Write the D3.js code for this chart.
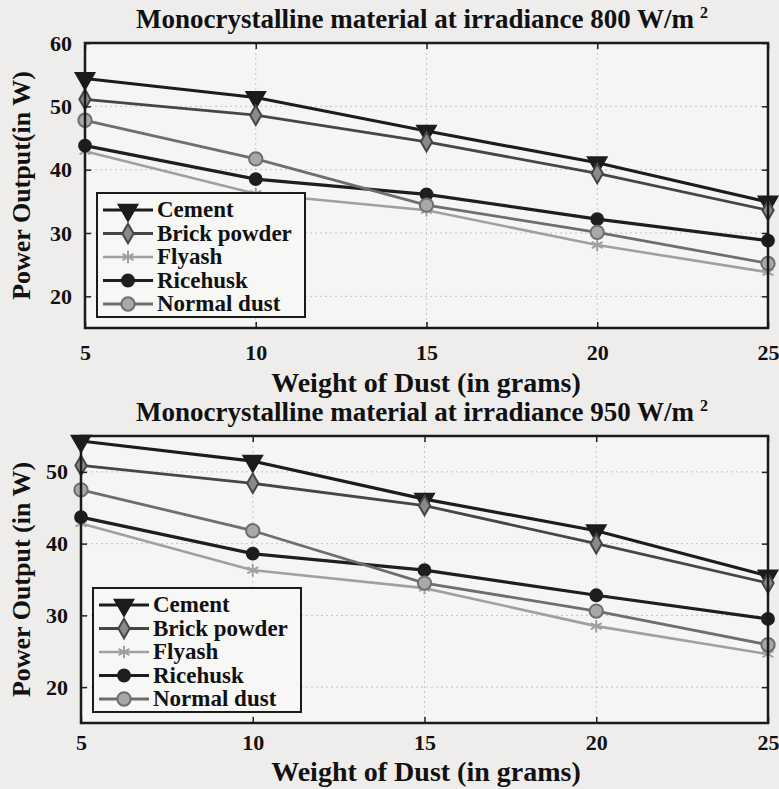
<!DOCTYPE html>
<html>
<head>
<meta charset="utf-8">
<script src="https://cdn.jsdelivr.net/npm/d3@7"></script>
<style>
  body { margin: 0; background: #eeedeb; }
  svg { display: block; }
  text { font-family: "Liberation Serif", "DejaVu Serif", serif; font-weight: bold; fill: #111; }
</style>
</head>
<body>
<div id="chart"></div>
<script>
var weights = [5, 10, 15, 20, 25]
var seriesNames = ["Cement", "Brick powder", "Flyash", "Ricehusk", "Normal dust"]

// irradiance 800 W/m2
var cement800 = [54.4, 51.4, 46.1, 41.1, 34.9]
var brick800 = [51.1, 48.6, 44.4, 39.4, 33.6]
var flyash800 = [42.9, 36.2, 33.6, 28.1, 23.8]
var rice800 = [43.8, 38.5, 36.1, 32.2, 28.8]
var normal800 = [47.8, 41.7, 34.4, 30.1, 25.2]

// irradiance 950 W/m2
var cement950 = [54.3, 51.5, 46.2, 41.8, 35.5]
var brick950 = [50.9, 48.4, 45.3, 40.0, 34.5]
var flyash950 = [42.8, 36.3, 33.8, 28.5, 24.6]
var rice950 = [43.7, 38.6, 36.3, 32.8, 29.5]
var normal950 = [47.5, 41.8, 34.5, 30.6, 25.9]

var yTicksTop = [20, 30, 40, 50, 60]
var yTicksBot = [20, 30, 40, 50]

var styles = {
    "Cement":       {stroke: "#1c1c1c", sym: "tri",  fill: "#1c1c1c", w: 3.2},
    "Brick powder": {stroke: "#464646", sym: "dia",  fill: "#8a8a8a", w: 2.8},
    "Flyash":       {stroke: "#a0a0a0", sym: "star", fill: "none",    w: 2.6},
    "Ricehusk":     {stroke: "#1e1e1e", sym: "sq",   fill: "#1e1e1e", w: 3.2},
    "Normal dust":  {stroke: "#6e6e6e", sym: "circ", fill: "#a8a8a8", w: 2.8}
}

var svg = d3.select("#chart").append("svg")
    .attr("width", 779)
    .attr("height", 789)

function markerPath(sym) {
    if (sym == "tri") return d3.symbol(d3.symbolTriangle, 150)()
    if (sym == "dia") return d3.symbol(d3.symbolDiamond, 110)()
    if (sym == "star") return d3.symbol(d3.symbolAsterisk, 110)()
    if (sym == "sq") return d3.symbol(d3.symbolCircle, 110)()
    return d3.symbol(d3.symbolCircle, 140)()
}

function drawMarker(g, name, cx, cy) {
    var s = styles[name]
    var p = g.append("path")
        .attr("d", markerPath(s.sym))
        .attr("stroke", s.stroke)
        .attr("stroke-width", 2)
        .attr("fill", s.fill)
    if (s.sym == "tri") p.attr("transform", "translate(" + cx + "," + cy + ") rotate(180)")
    else p.attr("transform", "translate(" + cx + "," + cy + ")")
}

function drawPanel(opt) {
    var x = d3.scaleLinear().domain([5, 25]).range([opt.left, opt.right])
    var y = d3.scaleLinear().domain(opt.yDomain).range([opt.bottom, opt.top])
    var g = svg.append("g")

    g.append("rect")
        .attr("x", opt.left).attr("y", opt.top)
        .attr("width", opt.right - opt.left).attr("height", opt.bottom - opt.top)
        .attr("fill", "#f5f5f3")

    // grid
    g.selectAll(".gx").data(weights).enter().append("line")
        .attr("x1", function (d) { return x(d) }).attr("x2", function (d) { return x(d) })
        .attr("y1", opt.top).attr("y2", opt.bottom)
        .attr("stroke", "#c4c4c4").attr("stroke-dasharray", "2,3")
    g.selectAll(".gy").data(opt.yTicks).enter().append("line")
        .attr("x1", opt.left).attr("x2", opt.right)
        .attr("y1", function (d) { return y(d) }).attr("y2", function (d) { return y(d) })
        .attr("stroke", "#c4c4c4").attr("stroke-dasharray", "2,3")

    var line = d3.line()
        .x(function (d) { return x(d.x) })
        .y(function (d) { return y(d.y) })

    opt.series.forEach(function (vals, i) {
        var name = seriesNames[i]
        var pts = weights.map(function (w, j) { return {x: w, y: vals[j]} })
        g.append("path")
            .attr("d", line(pts))
            .attr("fill", "none")
            .attr("stroke", styles[name].stroke)
            .attr("stroke-width", styles[name].w)
        pts.forEach(function (p) { drawMarker(g, name, x(p.x), y(p.y)) })
    })

    // axes (inward ticks, matlab style)
    g.append("g").attr("transform", "translate(0," + opt.bottom + ")")
        .call(d3.axisBottom(x).tickValues(weights).tickSizeInner(-6).tickSizeOuter(0).tickPadding(opt.xPad))
    g.append("g").attr("transform", "translate(0," + opt.top + ")")
        .call(d3.axisTop(x).tickValues(weights).tickSizeInner(-6).tickSizeOuter(0).tickFormat(""))
    g.append("g").attr("transform", "translate(" + opt.left + ",0)")
        .call(d3.axisLeft(y).tickValues(opt.yTicks).tickSizeInner(-6).tickSizeOuter(0).tickPadding(13))
    g.append("g").attr("transform", "translate(" + opt.right + ",0)")
        .call(d3.axisRight(y).tickValues(opt.yTicks).tickSizeInner(-6).tickSizeOuter(0).tickFormat(""))
    g.selectAll(".domain").remove()
    g.selectAll(".tick line").attr("stroke", "#222").attr("stroke-width", 1.5)
    g.selectAll(".tick text")
        .style("font-family", "Liberation Serif, serif")
        .style("font-weight", "bold")
        .style("font-size", "22px")
        .attr("fill", "#111")

    g.append("rect")
        .attr("x", opt.left).attr("y", opt.top)
        .attr("width", opt.right - opt.left).attr("height", opt.bottom - opt.top)
        .attr("fill", "none").attr("stroke", "#1a1a1a").attr("stroke-width", 2.5)

    // title
    var t = g.append("text")
        .attr("x", 422).attr("y", opt.top - 15)
        .attr("text-anchor", "middle")
        .style("font-size", "27px")
    t.append("tspan").text(opt.title)
    t.append("tspan").text("2").attr("dy", -10).attr("dx", 6).style("font-size", "16px")

    g.append("text")
        .attr("x", 426).attr("y", opt.bottom + opt.xtOff)
        .attr("text-anchor", "middle")
        .style("font-size", "28px")
        .text("Weight of Dust (in grams)")

    g.append("text")
        .attr("transform", "translate(30," + ((opt.top + opt.bottom) / 2) + ") rotate(-90)")
        .attr("text-anchor", "middle")
        .style("font-size", "26px")
        .text(opt.ylabel)

    // legend
    var lg = g.append("g")
    lg.append("rect")
        .attr("x", opt.lx).attr("y", opt.ly)
        .attr("width", 208).attr("height", 124)
        .attr("fill", "#f7f7f5").attr("stroke", "#1a1a1a").attr("stroke-width", 2)
    seriesNames.forEach(function (name, i) {
        var cy = opt.ly + 17 + i * 23.5
        lg.append("line")
            .attr("x1", opt.lx + 6).attr("x2", opt.lx + 56)
            .attr("y1", cy).attr("y2", cy)
            .attr("stroke", styles[name].stroke).attr("stroke-width", styles[name].w)
        drawMarker(lg, name, opt.lx + 31, cy)
        lg.append("text")
            .attr("x", opt.lx + 60).attr("y", cy + 7)
            .style("font-size", "23px")
            .text(name)
    })
}

drawPanel({
    left: 85, right: 768, top: 43, bottom: 328,
    yDomain: [15, 60], yTicks: yTicksTop,
    series: [cement800, brick800, flyash800, rice800, normal800],
    title: "Monocrystalline material at irradiance 800 W/m",
    ylabel: "Power Output(in W)",
    lx: 97, ly: 193, xtOff: 64, xPad: 16
})

drawPanel({
    left: 81, right: 768, top: 436, bottom: 723,
    yDomain: [15, 55], yTicks: yTicksBot,
    series: [cement950, brick950, flyash950, rice950, normal950],
    title: "Monocrystalline material at irradiance 950 W/m",
    ylabel: "Power Output (in W)",
    lx: 93, ly: 588, xtOff: 58, xPad: 11
})
</script>
</body>
</html>
